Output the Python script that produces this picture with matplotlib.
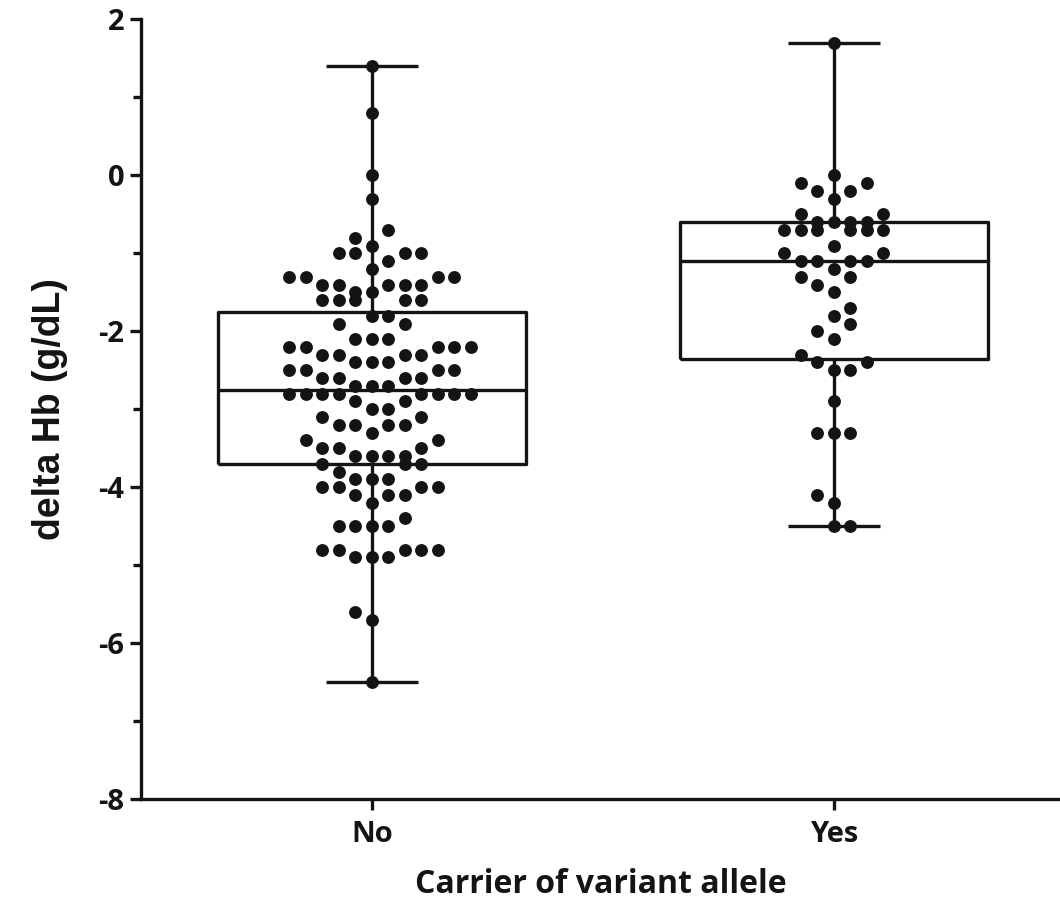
import numpy as np
import matplotlib
matplotlib.use("Agg")
import matplotlib.pyplot as plt
from matplotlib.ticker import MultipleLocator

plt.rcParams["axes.unicode_minus"] = False

# delta Hb (g/dL) per subject (0.1 g/dL resolution)
groups = ["No", "Yes"]
no_values = [1.4, 0.8, 0.0, -0.3, -0.7, -0.8, -0.9,
             -1.0, -1.0, -1.0, -1.0, -1.1, -1.2,
             -1.3, -1.3, -1.3, -1.3, -1.4, -1.4, -1.4, -1.4, -1.4,
             -1.5, -1.5, -1.6, -1.6, -1.6, -1.6, -1.6,
             -1.8, -1.8, -1.9, -1.9, -2.1, -2.1, -2.1,
             -2.2, -2.2, -2.2, -2.2, -2.2, -2.3, -2.3, -2.3, -2.3,
             -2.4, -2.4, -2.4, -2.5, -2.5, -2.5, -2.5,
             -2.6, -2.6, -2.6, -2.6, -2.7, -2.7, -2.7,
             -2.8, -2.8, -2.8, -2.8, -2.8, -2.8, -2.8, -2.8,
             -2.9, -2.9, -3.0, -3.0, -3.1, -3.1,
             -3.2, -3.2, -3.2, -3.2, -3.3, -3.4, -3.4,
             -3.5, -3.5, -3.5, -3.6, -3.6, -3.6, -3.6,
             -3.7, -3.7, -3.7, -3.8, -3.9, -3.9, -3.9,
             -4.0, -4.0, -4.0, -4.0, -4.1, -4.1, -4.1, -4.2, -4.4,
             -4.5, -4.5, -4.5, -4.5, -4.8, -4.8, -4.8, -4.8, -4.8,
             -4.9, -4.9, -4.9, -5.6, -5.7, -6.5]
yes_values = [1.7, 0.0, -0.1, -0.1, -0.2, -0.2, -0.3, -0.5, -0.5,
              -0.6, -0.6, -0.6, -0.6, -0.7, -0.7, -0.7, -0.7, -0.7, -0.7,
              -0.9, -1.0, -1.0, -1.1, -1.1, -1.1, -1.1, -1.2,
              -1.3, -1.3, -1.4, -1.5, -1.7, -1.8, -1.9, -2.0, -2.1,
              -2.3, -2.4, -2.4, -2.5, -2.5, -2.9, -3.3, -3.3, -3.3,
              -4.1, -4.2, -4.5, -4.5]

ink = "#141414"
W, H, DPI = 10.6, 9.05, 100
ax_left, ax_bottom, ax_w, ax_h = 141 / 1060, 106 / 905, 919 / 1060, 779.5 / 905
xlim = (-0.5, 1.49)


def swarm_slots(values, row_height=0.25):
    '''Prism-like dot layout: points within one row band are spread
    0, +1, -1, +2 ... (lowest value in the middle), and the side taken
    first flips from one row to the next.'''
    values = np.asarray(values)
    order = np.argsort(values, kind="stable")
    slots = np.zeros(len(values))
    i, plus_first = 0, True
    while i < len(order):
        start = values[order[i]]
        j = i
        while j < len(order) and values[order[j]] - start < row_height:
            j += 1
        sign = 1 if plus_first else -1
        pos, k = [0], 1
        while len(pos) < j - i:
            pos.append(sign * k)
            if len(pos) < j - i:
                pos.append(-sign * k)
            k += 1
        slots[order[i:j]] = pos
        plus_first = not plus_first
        i = j
    return slots


def prism_stats(values):
    v = np.asarray(values)
    q1, med, q3 = np.percentile(v, [25, 50, 75], method="weibull")
    return dict(med=med, q1=q1, q3=q3, whislo=v.min(), whishi=v.max(), fliers=[])


fig = plt.figure(figsize=(W, H), dpi=DPI)
ax = fig.add_axes([ax_left, ax_bottom, ax_w, ax_h])

line_kw = dict(color=ink, linewidth=2.4, solid_capstyle="butt")
ax.bxp([prism_stats(no_values), prism_stats(yes_values)], positions=[0, 1],
       widths=0.667, capwidths=0.2, showfliers=False, patch_artist=False,
       boxprops=line_kw, whiskerprops=line_kw, capprops=line_kw,
       medianprops=line_kw, manage_ticks=False)

# dot spacing: 16.5 px converted into data units
px_per_unit = ax_w * W * DPI / (xlim[1] - xlim[0])
spacing = 16.5 / px_per_unit
for pos, vals in enumerate([no_values, yes_values]):
    xs = pos + swarm_slots(vals) * spacing
    ax.scatter(xs, vals, s=86, color=ink, linewidths=0, zorder=3)

ax.set_xlim(*xlim)
ax.set_ylim(-8, 2)
ax.set_xticks([0, 1])
ax.set_xticklabels(groups)
ax.yaxis.set_major_locator(MultipleLocator(2))
ax.yaxis.set_minor_locator(MultipleLocator(1))

for side in ["top", "right"]:
    ax.spines[side].set_visible(False)
for side in ["left", "bottom"]:
    ax.spines[side].set_linewidth(2.4)
    ax.spines[side].set_color(ink)

ax.tick_params(axis="both", which="major", length=8, width=2.4, color=ink,
               labelcolor=ink, pad=4)
ax.tick_params(axis="y", which="minor", length=5.5, width=2.4, color=ink)
ax.tick_params(axis="x", which="major", pad=7)
for lab in ax.get_xticklabels() + ax.get_yticklabels():
    lab.set_fontfamily("Open Sans")
    lab.set_fontweight("bold")
    lab.set_fontsize(21)

ax.set_xlabel("Carrier of variant allele", fontfamily="Open Sans",
              fontweight="bold", fontsize=23, color=ink, labelpad=14)
ax.set_ylabel("delta Hb (g/dL)", fontfamily="Liberation Sans",
              fontweight="bold", fontsize=27, color=ink, labelpad=22)

fig.savefig("out.png", dpi=DPI)
